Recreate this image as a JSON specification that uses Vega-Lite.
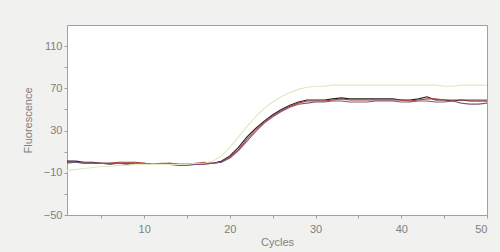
{
  "$schema": "https://vega.github.io/schema/vega-lite/v6.json",
  "width": 420,
  "height": 190,
  "autosize": "none",
  "padding": {"left": 67, "top": 25, "right": 13, "bottom": 37},
  "background": "#f1f1ef",
  "config": {
    "view": {"fill": "white", "stroke": "#a0a0a0", "strokeWidth": 1},
    "axis": {"labelFont": "Liberation Sans", "titleFont": "Liberation Sans", "labelColor": "#808080", "titleColor": "#808080", "labelFontSize": 11, "titleFontSize": 11, "titleFontWeight": "normal", "domainColor": "#a0a0a0", "tickColor": "#a0a0a0", "grid": false, "tickSize": 3}
  },
  "data": {"values": [
    {"c":1,"s":"s4","v":1},{"c":2,"s":"s4","v":1},{"c":3,"s":"s4","v":0},{"c":4,"s":"s4","v":0},{"c":5,"s":"s4","v":-1},{"c":6,"s":"s4","v":-1},{"c":7,"s":"s4","v":-1},{"c":8,"s":"s4","v":-1},{"c":9,"s":"s4","v":-1},{"c":10,"s":"s4","v":-1},
    {"c":11,"s":"s4","v":-2},{"c":12,"s":"s4","v":-2},{"c":13,"s":"s4","v":-1},{"c":14,"s":"s4","v":-2},{"c":15,"s":"s4","v":-2},{"c":16,"s":"s4","v":-2},{"c":17,"s":"s4","v":-1},{"c":18,"s":"s4","v":-1},{"c":19,"s":"s4","v":1},{"c":20,"s":"s4","v":6},
    {"c":21,"s":"s4","v":14},{"c":22,"s":"s4","v":24},{"c":23,"s":"s4","v":32},{"c":24,"s":"s4","v":39},{"c":25,"s":"s4","v":45},{"c":26,"s":"s4","v":50},{"c":27,"s":"s4","v":54},{"c":28,"s":"s4","v":57},{"c":29,"s":"s4","v":59},{"c":30,"s":"s4","v":59},
    {"c":31,"s":"s4","v":59},{"c":32,"s":"s4","v":60},{"c":33,"s":"s4","v":61},{"c":34,"s":"s4","v":60},{"c":35,"s":"s4","v":60},{"c":36,"s":"s4","v":60},{"c":37,"s":"s4","v":60},{"c":38,"s":"s4","v":60},{"c":39,"s":"s4","v":60},{"c":40,"s":"s4","v":59},
    {"c":41,"s":"s4","v":59},{"c":42,"s":"s4","v":60},{"c":43,"s":"s4","v":62},{"c":44,"s":"s4","v":59},{"c":45,"s":"s4","v":59},{"c":46,"s":"s4","v":58},{"c":47,"s":"s4","v":59},{"c":48,"s":"s4","v":58},{"c":49,"s":"s4","v":58},{"c":50,"s":"s4","v":58},
    {"c":1,"s":"s3","v":0},{"c":2,"s":"s3","v":0},{"c":3,"s":"s3","v":-1},{"c":4,"s":"s3","v":-1},{"c":5,"s":"s3","v":-1},{"c":6,"s":"s3","v":-1},{"c":7,"s":"s3","v":0},{"c":8,"s":"s3","v":0},{"c":9,"s":"s3","v":0},{"c":10,"s":"s3","v":-1},
    {"c":11,"s":"s3","v":-2},{"c":12,"s":"s3","v":-1},{"c":13,"s":"s3","v":-1},{"c":14,"s":"s3","v":-2},{"c":15,"s":"s3","v":-2},{"c":16,"s":"s3","v":-1},{"c":17,"s":"s3","v":0},{"c":18,"s":"s3","v":-1},{"c":19,"s":"s3","v":0},{"c":20,"s":"s3","v":5},
    {"c":21,"s":"s3","v":12},{"c":22,"s":"s3","v":22},{"c":23,"s":"s3","v":31},{"c":24,"s":"s3","v":38},{"c":25,"s":"s3","v":44},{"c":26,"s":"s3","v":49},{"c":27,"s":"s3","v":53},{"c":28,"s":"s3","v":56},{"c":29,"s":"s3","v":58},{"c":30,"s":"s3","v":58},
    {"c":31,"s":"s3","v":58},{"c":32,"s":"s3","v":59},{"c":33,"s":"s3","v":60},{"c":34,"s":"s3","v":59},{"c":35,"s":"s3","v":59},{"c":36,"s":"s3","v":59},{"c":37,"s":"s3","v":59},{"c":38,"s":"s3","v":59},{"c":39,"s":"s3","v":59},{"c":40,"s":"s3","v":59},
    {"c":41,"s":"s3","v":58},{"c":42,"s":"s3","v":59},{"c":43,"s":"s3","v":60},{"c":44,"s":"s3","v":60},{"c":45,"s":"s3","v":59},{"c":46,"s":"s3","v":59},{"c":47,"s":"s3","v":59},{"c":48,"s":"s3","v":59},{"c":49,"s":"s3","v":59},{"c":50,"s":"s3","v":59},
    {"c":1,"s":"s2","v":-1},{"c":2,"s":"s2","v":0},{"c":3,"s":"s2","v":-1},{"c":4,"s":"s2","v":-1},{"c":5,"s":"s2","v":-1},{"c":6,"s":"s2","v":-2},{"c":7,"s":"s2","v":-1},{"c":8,"s":"s2","v":-2},{"c":9,"s":"s2","v":-1},{"c":10,"s":"s2","v":-2},
    {"c":11,"s":"s2","v":-2},{"c":12,"s":"s2","v":-2},{"c":13,"s":"s2","v":-2},{"c":14,"s":"s2","v":-3},{"c":15,"s":"s2","v":-3},{"c":16,"s":"s2","v":-2},{"c":17,"s":"s2","v":-2},{"c":18,"s":"s2","v":-1},{"c":19,"s":"s2","v":0},{"c":20,"s":"s2","v":4},
    {"c":21,"s":"s2","v":11},{"c":22,"s":"s2","v":20},{"c":23,"s":"s2","v":29},{"c":24,"s":"s2","v":37},{"c":25,"s":"s2","v":43},{"c":26,"s":"s2","v":48},{"c":27,"s":"s2","v":52},{"c":28,"s":"s2","v":55},{"c":29,"s":"s2","v":56},{"c":30,"s":"s2","v":57},
    {"c":31,"s":"s2","v":57},{"c":32,"s":"s2","v":58},{"c":33,"s":"s2","v":58},{"c":34,"s":"s2","v":57},{"c":35,"s":"s2","v":57},{"c":36,"s":"s2","v":57},{"c":37,"s":"s2","v":58},{"c":38,"s":"s2","v":58},{"c":39,"s":"s2","v":58},{"c":40,"s":"s2","v":57},
    {"c":41,"s":"s2","v":57},{"c":42,"s":"s2","v":58},{"c":43,"s":"s2","v":58},{"c":44,"s":"s2","v":57},{"c":45,"s":"s2","v":57},{"c":46,"s":"s2","v":58},{"c":47,"s":"s2","v":56},{"c":48,"s":"s2","v":55},{"c":49,"s":"s2","v":55},{"c":50,"s":"s2","v":56},
    {"c":1,"s":"s1","v":-8},{"c":2,"s":"s1","v":-7},{"c":3,"s":"s1","v":-6},{"c":4,"s":"s1","v":-5},{"c":5,"s":"s1","v":-4},{"c":6,"s":"s1","v":-4},{"c":7,"s":"s1","v":-3},{"c":8,"s":"s1","v":-3},{"c":9,"s":"s1","v":-2},{"c":10,"s":"s1","v":-2},
    {"c":11,"s":"s1","v":-2},{"c":12,"s":"s1","v":-2},{"c":13,"s":"s1","v":-2},{"c":14,"s":"s1","v":-2},{"c":15,"s":"s1","v":-2},{"c":16,"s":"s1","v":-1},{"c":17,"s":"s1","v":-1},{"c":18,"s":"s1","v":1},{"c":19,"s":"s1","v":6},{"c":20,"s":"s1","v":14},
    {"c":21,"s":"s1","v":24},{"c":22,"s":"s1","v":34},{"c":23,"s":"s1","v":43},{"c":24,"s":"s1","v":51},{"c":25,"s":"s1","v":57},{"c":26,"s":"s1","v":62},{"c":27,"s":"s1","v":66},{"c":28,"s":"s1","v":69},{"c":29,"s":"s1","v":71},{"c":30,"s":"s1","v":72},
    {"c":31,"s":"s1","v":72},{"c":32,"s":"s1","v":73},{"c":33,"s":"s1","v":73},{"c":34,"s":"s1","v":73},{"c":35,"s":"s1","v":73},{"c":36,"s":"s1","v":73},{"c":37,"s":"s1","v":73},{"c":38,"s":"s1","v":73},{"c":39,"s":"s1","v":73},{"c":40,"s":"s1","v":73},
    {"c":41,"s":"s1","v":73},{"c":42,"s":"s1","v":73},{"c":43,"s":"s1","v":73},{"c":44,"s":"s1","v":73},{"c":45,"s":"s1","v":72},{"c":46,"s":"s1","v":72},{"c":47,"s":"s1","v":73},{"c":48,"s":"s1","v":73},{"c":49,"s":"s1","v":73},{"c":50,"s":"s1","v":73}
  ]},
  "mark": {"type": "line", "strokeWidth": 1.1, "clip": true},
  "encoding": {
    "x": {"field": "c", "type": "quantitative", "title": "Cycles",
      "scale": {"domain": [1, 50], "nice": false, "zero": false},
      "axis": {"values": [5,10,15,20,25,30,35,40,45,50], "labelExpr": "datum.value % 10 == 0 ? datum.label : ''", "labelPadding": 5, "titlePadding": 2}},
    "y": {"field": "v", "type": "quantitative", "title": "Fluorescence",
      "scale": {"domain": [-50, 130], "nice": false, "zero": false},
      "axis": {"values": [-50,-30,-10,10,30,50,70,90,110], "labelExpr": "(datum.value + 50) % 40 == 0 ? datum.label : ''", "labelPadding": 2, "titlePadding": 10}},
    "color": {"field": "s", "type": "nominal", "legend": null,
      "scale": {"domain": ["s1","s2","s3","s4"], "range": ["#dfe9bf", "#7a5a80", "#b03a2e", "#222222"]}}
  }
}
